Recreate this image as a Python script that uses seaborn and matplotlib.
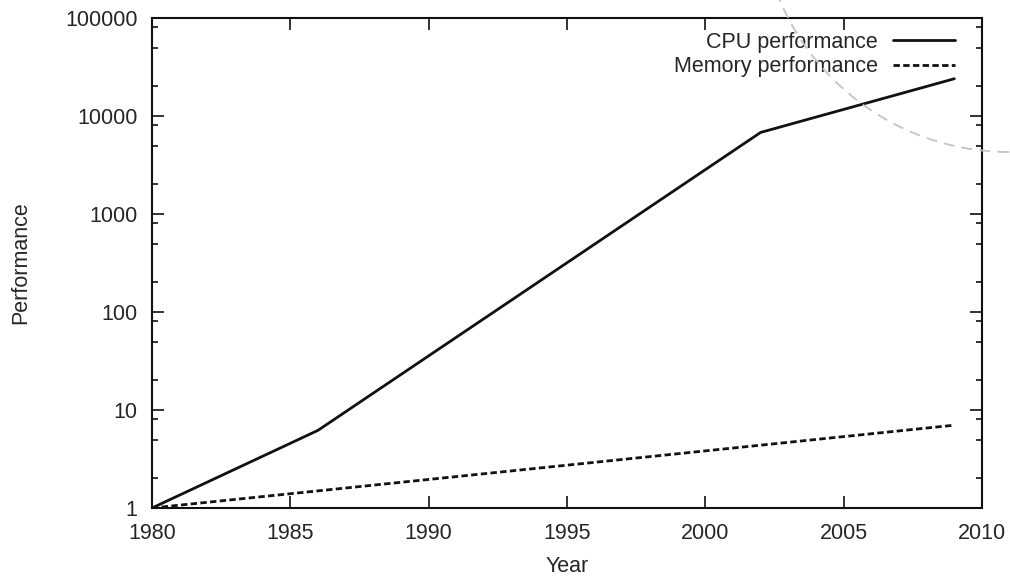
import numpy as np
import pandas as pd
import matplotlib
matplotlib.use("Agg")
import matplotlib.pyplot as plt
import seaborn as sns
from matplotlib.ticker import FixedLocator, NullFormatter
from matplotlib.patches import Circle

# Data
cpu_years = [1980, 1986, 2002, 2009]
cpu_perf = [1, 6.2, 6800, 24000]
mem_years = [1980, 2009]
mem_perf = [1, 7.0]
x_ticks = [1980, 1985, 1990, 1995, 2000, 2005, 2010]
y_ticks = [1, 10, 100, 1000, 10000, 100000]
y_tick_labels = ["1", "10", "100", "1000", "10000", "100000"]

sns.set_theme(style="white")
plt.rcParams['font.family'] = ['Liberation Sans', 'DejaVu Sans']

FS = 15.5
TXT = "#262626"
INK = "#111111"

cpu_df = pd.DataFrame({"Year": cpu_years, "Performance": cpu_perf})
mem_df = pd.DataFrame({"Year": mem_years, "Performance": mem_perf})

fig = plt.figure(figsize=(10.10, 5.78), dpi=100)
ax = fig.add_axes([152/1010, 70/578, (982-152)/1010, (508-18)/578])

sns.lineplot(data=cpu_df, x="Year", y="Performance", ax=ax, color=INK,
             linewidth=2.0, label="CPU performance")
sns.lineplot(data=mem_df, x="Year", y="Performance", ax=ax, color=INK,
             linewidth=2.0, linestyle=(0, (2.3, 1.2)), label="Memory performance")

ax.set_yscale("log")
ax.set_xlim(1980, 2010)
ax.set_ylim(1, 100000)
ax.set_xticks(x_ticks)
ax.set_xticklabels([str(t) for t in x_ticks], fontsize=FS, color=TXT)
ax.set_yticks(y_ticks)
ax.set_yticklabels(y_tick_labels, fontsize=FS, color=TXT)
minors = [m * 10**d for d in range(0, 5) for m in (2, 5, 8)]
ax.yaxis.set_minor_locator(FixedLocator(minors))
ax.yaxis.set_minor_formatter(NullFormatter())
ax.tick_params(axis="both", which="major", direction="in", length=8.6, width=1.2,
               top=True, right=True, bottom=True, left=True, color=INK)
ax.tick_params(axis="x", which="major", pad=11)
ax.tick_params(axis="y", which="major", pad=10.5)
ax.tick_params(axis="y", which="minor", direction="in", length=4.3, width=1.2,
               left=True, right=True, color=INK)
ax.tick_params(axis="x", which="minor", bottom=False, top=False)
for s in ax.spines.values():
    s.set_color(INK)
    s.set_linewidth(1.5)
    s.set_visible(True)

ax.set_xlabel("Year", fontsize=FS, color=TXT)
ax.set_ylabel("Performance", fontsize=FS, color=TXT)
ax.xaxis.set_label_coords(0.5, (508 - 556) / 490)
ax.yaxis.set_label_coords((31 - 152) / 830, 0.5)
ax.grid(False)

leg = ax.legend(loc="upper right", frameon=False, markerfirst=False, fontsize=FS,
                handlelength=2.9, handletextpad=0.7, borderaxespad=0, borderpad=0,
                labelspacing=0.15,
                bbox_to_anchor=((955 - 152) / 830, (508 - 32) / 490))
for t in leg.get_texts():
    t.set_color(TXT)

# faint dashed arc overlay seen in the upper-right corner of the source image (pixel coords)
arc = Circle((1009, 578 + 97), 249, transform=None, fill=False, edgecolor="#c4c4c4",
             linewidth=1.3, linestyle=(0, (6, 4)), zorder=10)
fig.add_artist(arc)

fig.savefig("out.png", dpi=100, facecolor="white")
